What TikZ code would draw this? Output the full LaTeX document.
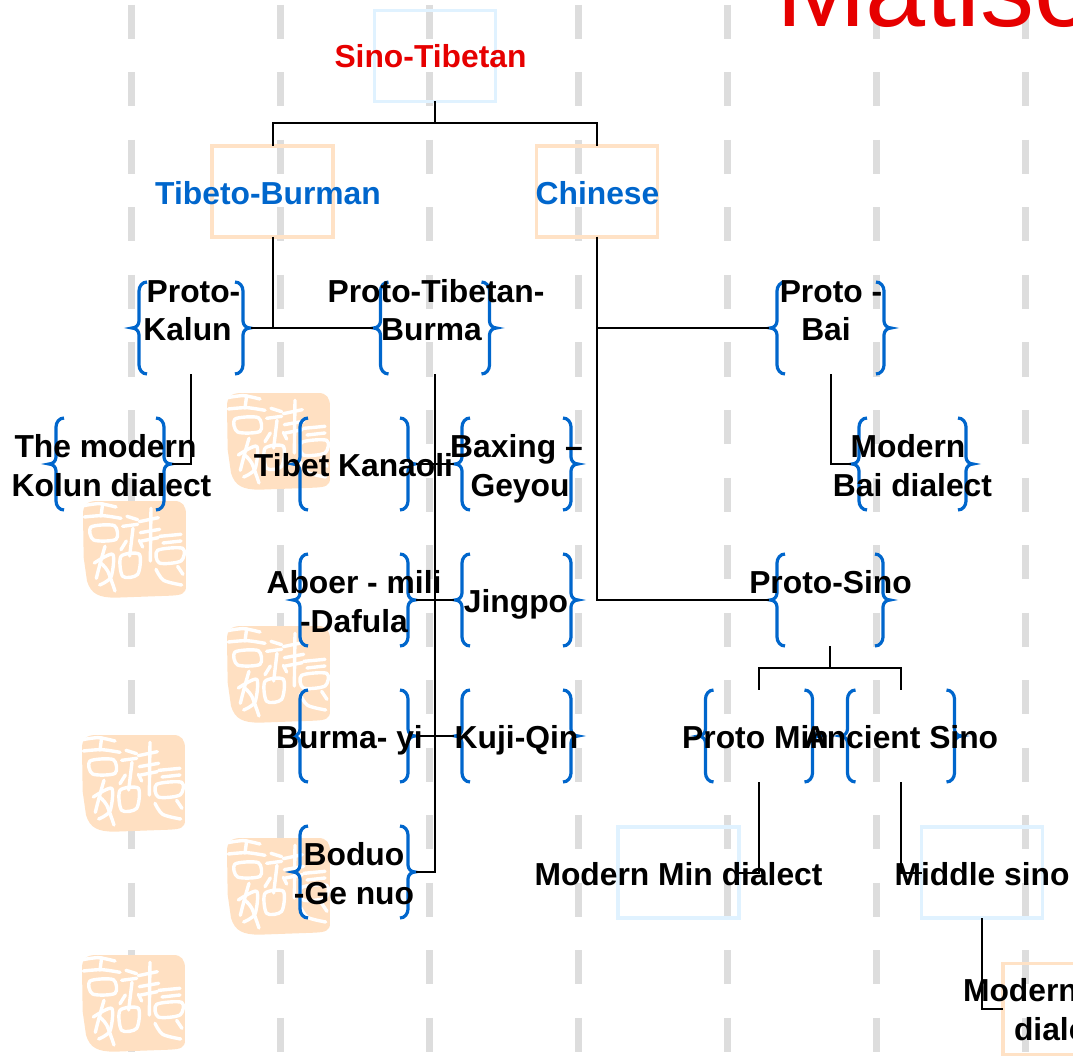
\documentclass[tikz,border=0pt]{standalone}
\usepackage{fontspec}
\setmainfont{Liberation Sans}

\definecolor{titlered}{RGB}{230,0,0}
\definecolor{headblue}{RGB}{0,102,204}
\definecolor{dashgrey}{RGB}{221,221,221}
\definecolor{paleblue}{RGB}{224,242,255}
\definecolor{palepeach}{RGB}{255,226,198}
\definecolor{sealpeach}{RGB}{255,224,194}

\tikzset{every picture/.style={line width=2pt}}
\tikzset{
	langtext/.style={font=\fontsize{31.8}{38.5}\selectfont\bfseries,inner sep=0pt,align=center,anchor=base},
	bluebox/.style={draw=paleblue,line width=3.5pt,inner sep=0pt,outer sep=0pt,minimum width=121,minimum height=91},
	peachbox/.style={bluebox,draw=palepeach},
	bracebox/.style={inner sep=0pt,outer sep=0pt,minimum width=#1,minimum height=92},
	bracebox/.default=108,
	braceline/.style={draw=headblue,line width=3.2pt},
	dashline/.style={draw=dashgrey,line width=7pt,dash pattern=on 34pt off 33.5pt},
	sealstroke/.style={draw=white,line width=3.4pt,line cap=round,line join=round},
	pics/sealmark/.style={code={
		\begin{scope}[xscale=0.3333,yscale=-0.3333,shift={(-36,-30)}]
			\fill[sealpeach] (36,70) .. controls (36,40) and (50,30) .. (80,30) -- (310,30) .. controls (335,30) and (345,45) .. (345,70) -- (345,285) .. controls (345,310) and (330,312) .. (300,314) -- (135,320) .. controls (85,320) and (60,310) .. (48,270) -- (38,200) -- cycle;
			\draw[sealstroke] plot[smooth] coordinates {(38,44) (85,38) (135,48)};
			\draw[sealstroke] (95,38) -- (90,75);
			\draw[sealstroke] plot[smooth] coordinates {(40,78) (95,74) (150,82)};
			\draw[sealstroke] plot[smooth cycle] coordinates {(60,108) (130,104) (135,145) (68,147)};
			\draw[sealstroke] (240,52) -- (238,210);
			\draw[sealstroke] (205,92) -- (262,80);
			\draw[sealstroke] (208,125) -- (266,115);
			\draw[sealstroke] (212,150) -- (262,140);
			\draw[sealstroke] (168,76) -- (200,86);
			\draw[sealstroke] (155,106) -- (200,100);
			\draw[sealstroke] (186,112) -- (176,195);
			\draw[sealstroke] (150,176) -- (166,150);
			\draw[sealstroke] (205,148) -- (215,168);
			\draw[sealstroke] (266,136) -- (330,130);
			\draw[sealstroke] (276,156) -- (330,150);
			\draw[sealstroke] plot[smooth cycle] coordinates {(260,178) (335,172) (330,210) (265,216)};
			\draw[sealstroke] plot[smooth] coordinates {(255,235) (278,268) (332,282)};
			\draw[sealstroke] (320,226) -- (336,250);
			\draw[sealstroke] plot[smooth] coordinates {(102,166) (88,215) (76,262)};
			\draw[sealstroke] plot[smooth] coordinates {(88,215) (110,240) (132,300)};
			\draw[sealstroke] plot[smooth] coordinates {(70,216) (125,190) (120,258) (86,282)};
			\draw[sealstroke] plot[smooth cycle] coordinates {(150,196) (205,190) (200,250) (155,256)};
		\end{scope}
	}},
}

\begin{document}
\begin{tikzpicture}[x=1pt,y=1pt,yscale=-1,xscale=1]
	\useasboundingbox (0,0) rectangle (1073,1056);
	
	%Dashed background lines
	\foreach \xpos in {131,280,429,578,727,876,1025}
		\draw[dashline] (\xpos,5) -- (\xpos,1056);
	
	%Seal marks
	\foreach \sealx/\sealy [count=\i] in {227/393,83/501,227/626,82/735,227/838,82/955}
		\pic (seal\i) at (\sealx,\sealy) {sealmark};
	
	%Shape: Rectangle
	\node[bluebox] (sinoBox) at (435,56) {};
	\node[peachbox] (tibetoBox) at (272.5,191.5) {};
	\node[peachbox] (chineseBox) at (597,191.5) {};
	\node[bluebox] (modminBox) at (678.5,872.5) {};
	\node[bluebox] (middleBox) at (982,872.5) {};
	\node[peachbox] (modernBox) at (1063.5,1009) {};
	
	%Brace pairs
	\node[bracebox=104] (kalunB) at (191,328) {};
	\node[bracebox=109] (burmaB) at (435,328) {};
	\node[bracebox=107] (baiB) at (830.5,328) {};
	\node[bracebox] (kolunB) at (110,464) {};
	\node[bracebox] (tibetB) at (354,464) {};
	\node[bracebox=109] (baxingB) at (516.5,464) {};
	\node[bracebox=107] (modbaiB) at (912.5,464) {};
	\node[bracebox] (aboerB) at (354,600) {};
	\node[bracebox=109] (jingpoB) at (516.5,600) {};
	\node[bracebox=106] (protosinoB) at (830,600) {};
	\node[bracebox] (burmayiB) at (354,736) {};
	\node[bracebox=109] (kujiB) at (516.5,736) {};
	\node[bracebox=107] (protominB) at (759,736) {};
	\node[bracebox=107] (ancientB) at (901,736) {};
	\node[bracebox] (boduoB) at (354,872) {};
	
	\foreach \n in {kalunB,burmaB,baiB,kolunB,tibetB,baxingB,modbaiB,aboerB,jingpoB,protosinoB,burmayiB,kujiB,protominB,ancientB,boduoB}{
		\draw[braceline] ([shift={(8,0)}]\n.north west) to[out=180,in=-90] ([shift={(0,9)}]\n.north west) -- ([shift={(0,-7)}]\n.west) to[out=90,in=0] ([shift={(-7,0)}]\n.west) to[out=0,in=-90] ([shift={(0,7)}]\n.west) -- ([shift={(0,-9)}]\n.south west) to[out=90,in=180] ([shift={(8,0)}]\n.south west);
		\draw[braceline] ([shift={(-8,0)}]\n.north east) to[out=0,in=-90] ([shift={(0,9)}]\n.north east) -- ([shift={(0,-7)}]\n.east) to[out=90,in=180] ([shift={(7,0)}]\n.east) to[out=180,in=-90] ([shift={(0,7)}]\n.east) -- ([shift={(0,-9)}]\n.south east) to[out=90,in=0] ([shift={(-8,0)}]\n.south east);
	}
	
	%Straight Lines
	\draw (sinoBox.south) -- ++(0,22) -| (tibetoBox.north);
	\draw (sinoBox.south) -- ++(0,22) -| (chineseBox.north);
	\draw (tibetoBox.south) |- ([xshift=8]kalunB.east);
	\draw (tibetoBox.south) |- ([xshift=-8]burmaB.west);
	\draw (chineseBox.south) |- ([xshift=-8]baiB.west);
	\draw (chineseBox.south) |- ([xshift=-8]protosinoB.west);
	\draw (kalunB.south) |- ([xshift=8]kolunB.east);
	\draw (baiB.south) |- ([xshift=-8]modbaiB.west);
	\draw (burmaB.south) |- ([xshift=8]boduoB.east);
	\draw ([xshift=8]tibetB.east) -- ([xshift=-8]baxingB.west);
	\draw ([xshift=8]aboerB.east) -- ([xshift=-8]jingpoB.west);
	\draw ([xshift=8]burmayiB.east) -- ([xshift=-8]kujiB.west);
	\draw (protosinoB.south) -- ++(0,22) -| (protominB.north);
	\draw (protosinoB.south) -- ++(0,22) -| (ancientB.north);
	\draw (protominB.south) |- (modminBox.east);
	\draw (ancientB.south) |- (middleBox.west);
	\draw (middleBox.south) |- (modernBox.west);
	
	% Text Node
	\node[anchor=base west,inner sep=0pt,text=titlered,font=\fontsize{108}{108}\selectfont] (title) at (775,27) {Matiso};
	% Text Node
	\node[langtext,text=titlered] (sinoT) at (430.5,68) {Sino-Tibetan};
	% Text Node
	\node[langtext,text=headblue] (tibetoT) at (268,205) {Tibeto-Burman};
	% Text Node
	\node[langtext,text=headblue] (chineseT) at (597.5,205) {Chinese};
	% Text Node
	\node[langtext] (kalunT) at (193.5,341) {Proto-\\Kalun\hspace*{12pt}};
	% Text Node
	\node[langtext] (burmaT) at (436,341) {Proto-Tibetan-\\Burma\hspace*{9pt}};
	% Text Node
	\node[langtext] (baiT) at (831,341) {Proto -\\Bai\hspace*{10pt}};
	% Text Node
	\node[langtext] (kolunT) at (111.5,496) {The modern\hspace*{12pt}\\Kolun dialect};
	% Text Node
	\node[langtext] (tibetT) at (353.5,476) {Tibet Kanaoli};
	% Text Node
	\node[langtext] (baxingT) at (516.5,496) {Baxing –\\\hspace*{7pt}Geyou};
	% Text Node
	\node[langtext] (modbaiT) at (912.5,496) {Modern\hspace*{9pt}\\Bai dialect};
	% Text Node
	\node[langtext] (aboerT) at (354,632) {Aboer - mili\\-Dafula};
	% Text Node
	\node[langtext] (jingpoT) at (516,612) {Jingpo};
	% Text Node
	\node[langtext] (protosinoT) at (830.5,593) {Proto-Sino};
	% Text Node
	\node[langtext] (burmayiT) at (349.5,748) {Burma- yi};
	% Text Node
	\node[langtext] (kujiT) at (516.5,748) {Kuji-Qin};
	% Text Node
	\node[langtext] (protominT) at (755.5,748) {Proto Min};
	% Text Node
	\node[langtext] (ancientT) at (901,748) {Ancient Sino};
	% Text Node
	\node[langtext] (boduoT) at (354,904) {Boduo\\-Ge nuo};
	% Text Node
	\node[langtext] (modminT) at (678.5,885) {Modern Min dialect};
	% Text Node
	\node[langtext] (middleT) at (982,885) {Middle sino};
	% Text Node
	\node[langtext,align=left,anchor=base west] (modernT) at (962,1040) {Modern\\\hspace*{51pt}dialect};
\end{tikzpicture}
\end{document}
